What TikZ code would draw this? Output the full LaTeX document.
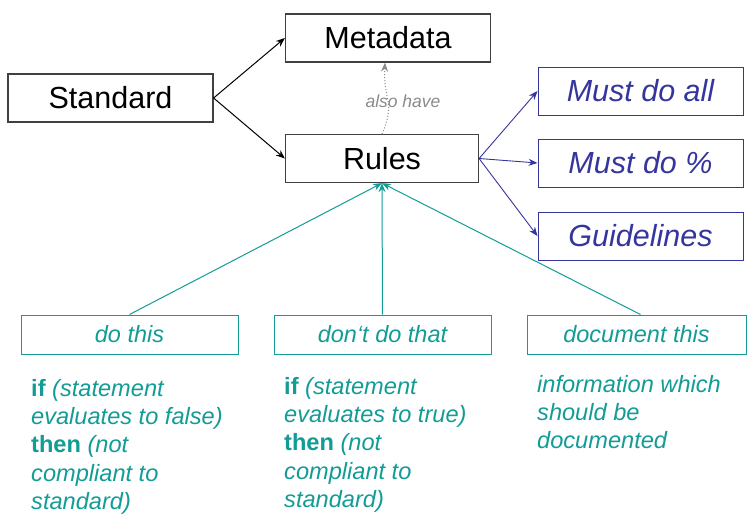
\documentclass[tikz,border=0pt]{standalone}
\usepackage{fontspec}
\setmainfont{Liberation Sans}
\usetikzlibrary{arrows.meta,calc}
\definecolor{boxgray}{HTML}{404040}
\definecolor{mustblue}{HTML}{35359E}
\definecolor{doteal}{HTML}{139C96}
\definecolor{notegray}{HTML}{8A8A8A}

\tikzset{
  box/.style={draw=boxgray, line width=1.2pt, minimum width=205pt, minimum height=48pt,
    inner sep=0pt, font=\fontsize{30.5}{36}\selectfont},
  must/.style={draw=mustblue, line width=1pt, text=mustblue, minimum width=205pt,
    minimum height=48pt, inner sep=0pt, font=\fontsize{30.5}{36}\selectfont\itshape},
  kind/.style={draw=doteal, line width=1pt, text=doteal, minimum width=217pt,
    minimum height=39pt, inner sep=0pt, font=\fontsize{23.5}{28}\selectfont\itshape},
  note/.style={anchor=north west, align=left, text=doteal, inner sep=0pt,
    font=\fontsize{23.6}{28.3}\selectfont\itshape},
  tip/.style={-{Stealth[length=9pt,width=7pt]}}
}

\begin{document}
\begin{tikzpicture}[x=1pt,y=-1pt]
  \useasboundingbox (0,0) rectangle (747,514);
  % top part
  \node[box] (standard) at (110.5,98) {Standard};
  \node[box] (metadata) at (388,38) {Metadata};
  \node[box, minimum width=193pt] (rules) at (382,158.5) {Rules};
  \node[must] (all) at (640.5,91) {Must do all};
  \node[must] (percent) at (640.5,163) {Must do \%};
  \node[must] (guide) at (640.5,236) {Guidelines};
  \node[text=notegray, font=\fontsize{17.5}{20}\selectfont\itshape] (alsohave) at (403,101) {also have};
  % kinds of rules
  \node[kind] (dothis) at (129.5,334.5) {do this};
  \node[kind] (dontdo) at (382.5,334.5) {don‘t do that};
  \node[kind, minimum width=219pt] (document) at (636.5,334.5) {document this};
  \node[note] (iffalse) at (31,379) {\textup{\textbf{if}} (statement\\evaluates to false)\\\textup{\textbf{then}} (not\\compliant to\\standard)};
  \node[note] (iftrue) at (284,377) {\textup{\textbf{if}} (statement\\evaluates to true)\\\textup{\textbf{then}} (not\\compliant to\\standard)};
  \node[note] (info) at (537,375) {information which\\should be\\documented};
  % connectors
  \draw[tip, line width=1pt] (standard.east) -- (metadata.west);
  \draw[tip, line width=1pt] (standard.east) -- (rules.west);
  \draw[tip, notegray, dotted, line width=1pt] (rules.north) .. controls +(14,-32) and +(-2,38) .. ([xshift=-3pt]metadata.south);
  \draw[tip, mustblue, line width=0.9pt] (rules.east) -- (all.west);
  \draw[tip, mustblue, line width=0.9pt] (rules.east) -- (percent.west);
  \draw[tip, mustblue, line width=0.9pt] (rules.east) -- (guide.west);
  \draw[tip, doteal, line width=1pt] (dothis.north) -- (rules.south);
  \draw[tip, doteal, line width=1pt] (dontdo.north) -- (rules.south);
  \draw[tip, doteal, line width=1pt] ([xshift=4pt]document.north) -- (rules.south);
\end{tikzpicture}
\end{document}
